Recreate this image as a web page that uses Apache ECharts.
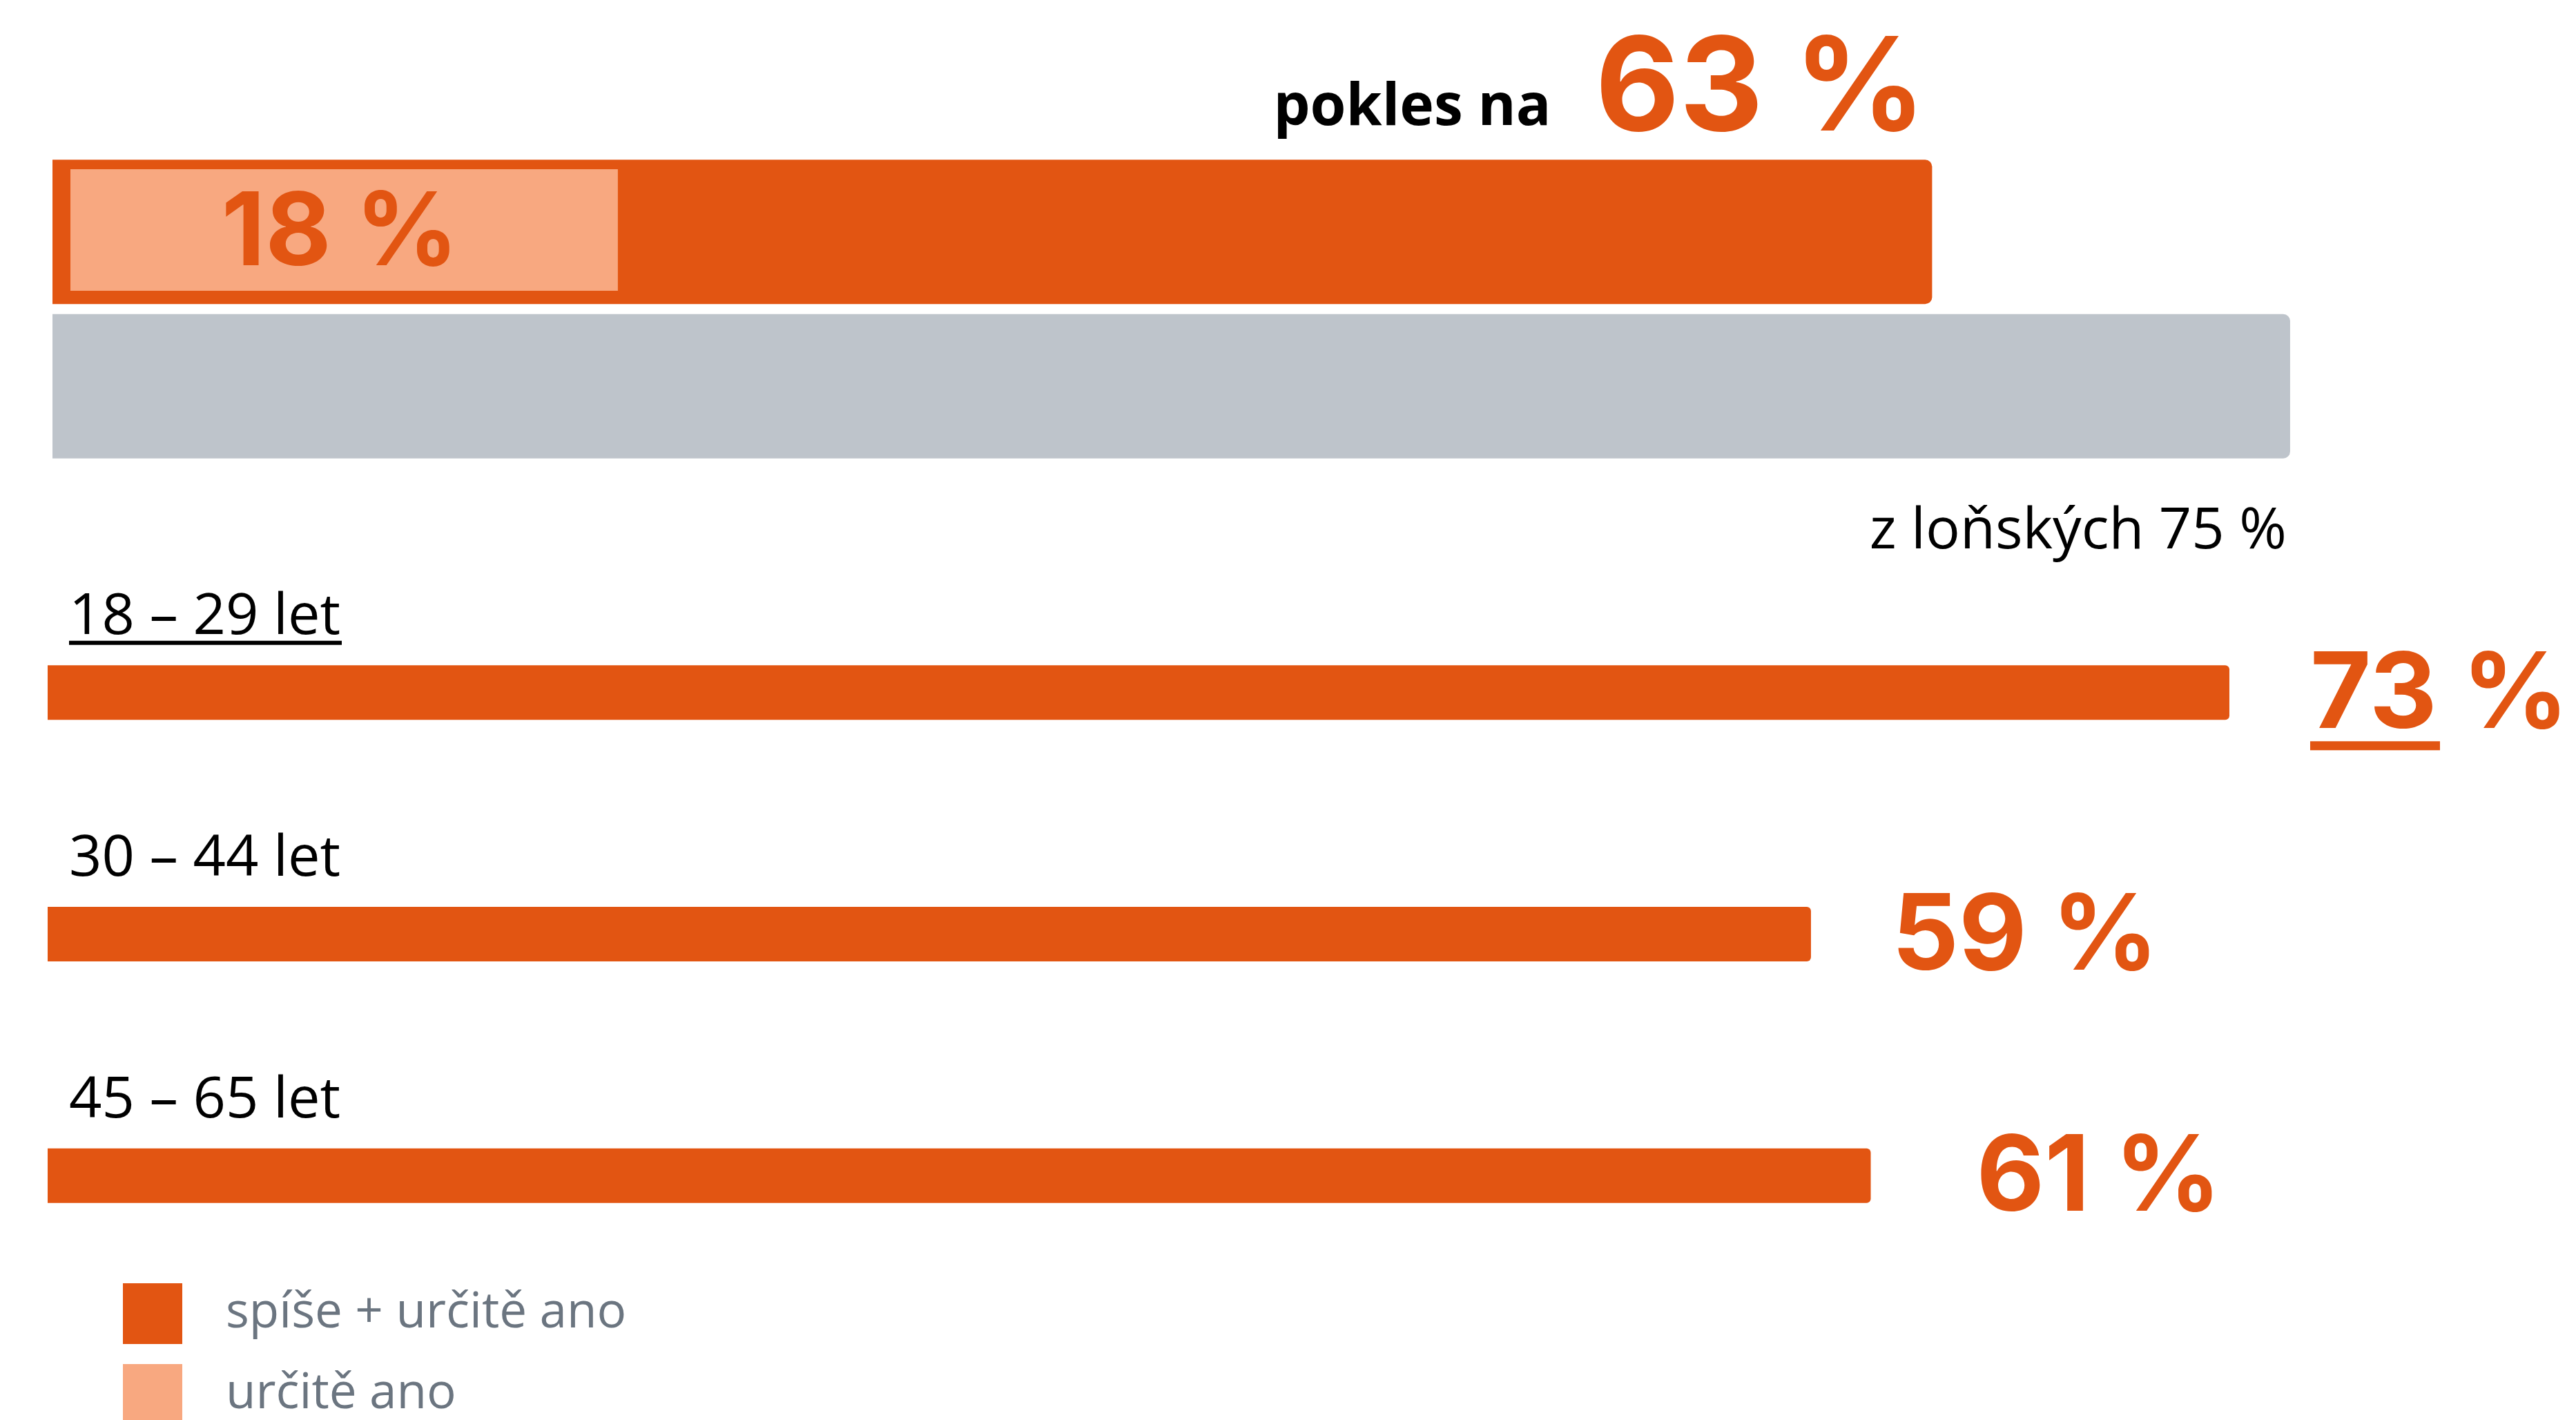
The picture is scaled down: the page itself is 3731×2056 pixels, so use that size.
<!DOCTYPE html>
<html><head><meta charset="utf-8">
<script src="https://cdn.jsdelivr.net/npm/echarts@6/dist/echarts.min.js"></script>
<style>html,body{margin:0;padding:0;background:#fff}#c{width:3731px;height:2056px}</style>
</head><body><div id="c"></div>
<script>
// ---- data ----
const topCategories = ['letos', 'loni'];
const topValues = [63, 75];            // spíše + určitě ano: this year, last year
const definitelyYesCategories = ['letos'];
const definitelyYesValues = [18];      // určitě ano
const ageGroups = ['18 – 29 let', '30 – 44 let', '45 – 65 let'];
const ageValues = [73, 59, 61];
const legendNames = ['spíše + určitě ano', 'určitě ano'];
const topTexts = { drop: 'pokles na', lastYear: 'z loňských' };

// ---- styles ----
const ORANGE = '#E25512', LIGHT = '#F8A880', GRAY = '#BEC4CB';
const NUM_FONT = 'Inter, Roboto, sans-serif';
const TXT_FONT = '"Open Sans", "Noto Sans", sans-serif';
const ageLabelNudge = [[0, 12], [0, 12], [36, 12]];
const pct = v => v + ' %';

const chart = echarts.init(document.getElementById('c'), null, { renderer: 'canvas' });

const xAx = (gi) => ({ type: 'value', gridIndex: gi, min: 0, max: 80, show: false });
const legendBase = {
  orient: 'vertical', left: 173,
  itemWidth: 86, itemHeight: 88, icon: 'rect', selectedMode: false,
  textStyle: { fontSize: 71, fontFamily: TXT_FONT, color: '#6B7580', padding: [0, 0, 0, 58] }
};

chart.setOption({
  animation: false,
  backgroundColor: '#fff',
  grid: [
    { left: 76, width: 3457, top: 224, height: 447 },
    { left: 102, width: 3524, top: 245, height: 176 },
    { left: 69, width: 3463, top: 828, height: 1049 }
  ],
  xAxis: [xAx(0), xAx(1), xAx(2)],
  yAxis: [
    { type: 'category', gridIndex: 0, data: topCategories, inverse: true, show: false },
    { type: 'category', gridIndex: 1, data: definitelyYesCategories, inverse: true, show: false },
    {
      type: 'category', gridIndex: 2, data: ageGroups, inverse: true,
      axisLine: { show: false }, axisTick: { show: false }, splitLine: { show: false },
      axisLabel: {
        inside: true, margin: 31, align: 'left', verticalAlign: 'bottom',
        padding: [0, 0, 69, 0],
        formatter: (v, i) => '{n|' + v + '}\n{' + (i === 0 ? 'u' : 'u0') + '| }',
        rich: {
          n: { fontSize: 83, fontFamily: TXT_FONT, color: '#000', lineHeight: 66 },
          u: { width: 395, height: 6, lineHeight: 6, fontSize: 1, backgroundColor: '#000' },
          u0: { width: 395, height: 6, lineHeight: 6, fontSize: 1 }
        }
      }
    }
  ],
  legend: [
    Object.assign({ top: 1853, data: [legendNames[0]] }, legendBase),
    Object.assign({ top: 1970, data: [legendNames[1]] }, legendBase)
  ],
  series: [
    {
      name: legendNames[0], type: 'bar', xAxisIndex: 0, yAxisIndex: 0,
      barWidth: 209, barGap: '0%',
      itemStyle: { color: ORANGE, borderRadius: [0, 10, 10, 0] },
      data: topValues.map((v, i) => i === 0 ? {
        value: v,
        label: {
          show: true, position: ['100%', 0], align: 'right', verticalAlign: 'bottom',
          offset: [-9, -5],
          formatter: '{a|' + topTexts.drop + '}{b|' + pct(v) + '}',
          rich: {
            a: { fontSize: 84, fontWeight: 'bold', fontFamily: TXT_FONT, color: '#000', padding: [0, 64, 27, 0], verticalAlign: 'bottom', lineHeight: 150 },
            b: { fontSize: 188, fontWeight: 'bold', fontFamily: NUM_FONT, color: ORANGE, verticalAlign: 'bottom', lineHeight: 150 }
          }
        }
      } : {
        value: v,
        itemStyle: { color: GRAY },
        label: {
          show: true, position: ['100%', '100%'], align: 'right', verticalAlign: 'top',
          offset: [-5, 65],
          formatter: topTexts.lastYear + ' ' + pct(v),
          fontSize: 83, fontFamily: TXT_FONT, color: '#000'
        }
      })
    },
    {
      name: legendNames[1], type: 'bar', xAxisIndex: 1, yAxisIndex: 1,
      barWidth: 176, z: 5,
      itemStyle: { color: LIGHT },
      label: {
        show: true, position: 'inside', offset: [-6, 7],
        formatter: p => pct(p.value),
        fontSize: 147, fontWeight: 'bold', fontFamily: NUM_FONT, color: ORANGE
      },
      data: definitelyYesValues
    },
    {
      name: legendNames[0], type: 'bar', xAxisIndex: 2, yAxisIndex: 2,
      barWidth: 79,
      itemStyle: { color: ORANGE, borderRadius: [0, 6, 6, 0] },
      label: {
        show: true, position: 'right', distance: 117,
        formatter: p => '{v|' + p.value + '}{w| %}\n{' + (p.dataIndex === 0 ? 'u' : 'u0') + '| }',
        rich: {
          v: { fontSize: 152, fontWeight: 'bold', fontFamily: NUM_FONT, color: ORANGE, lineHeight: 130 },
          w: { fontSize: 152, fontWeight: 'bold', fontFamily: NUM_FONT, color: ORANGE, lineHeight: 130 },
          u: { width: 188, height: 13, lineHeight: 13, fontSize: 1, backgroundColor: ORANGE },
          u0: { width: 188, height: 13, lineHeight: 13, fontSize: 1 }
        }
      },
      data: ageValues.map((v, i) => ({ value: v, label: { offset: ageLabelNudge[i] } }))
    }
  ]
});
</script></body></html>
